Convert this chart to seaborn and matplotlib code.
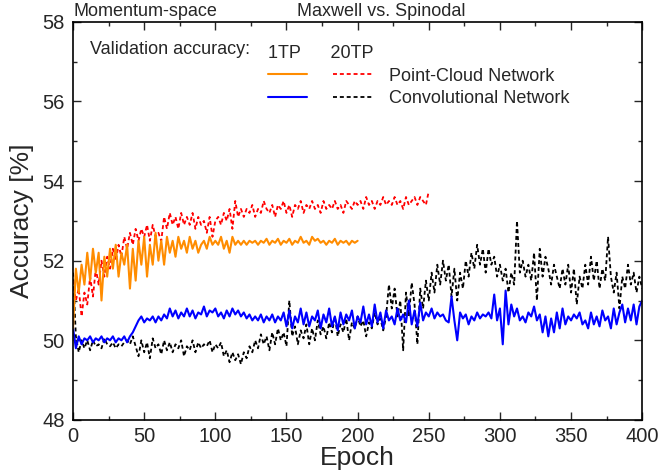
import numpy as np
import pandas as pd
import seaborn as sns
import matplotlib
matplotlib.use('Agg')
import matplotlib.pyplot as plt
from matplotlib.lines import Line2D
from matplotlib.legend_handler import HandlerTuple
from matplotlib.ticker import MultipleLocator

# validation accuracy [%], every 2 epochs
pc_1tp = [50.3, 51.8, 51.2, 51.9, 51.4, 52.2, 51.5, 52.3, 51.7, 52.2,
          51.0, 52.1, 51.6, 52.3, 51.8, 52.4, 51.6, 52.2, 51.9, 52.4,
          51.3, 52.3, 51.5, 52.5, 51.9, 52.6, 51.6, 52.4, 51.9, 52.7,
          52.0, 52.5, 51.9, 52.6, 52.2, 52.5, 52.1, 52.6, 52.3, 52.5,
          52.2, 52.6, 52.3, 52.5, 52.2, 52.4, 52.5, 52.3, 52.6, 52.4,
          52.5, 52.4, 52.6, 52.3, 52.5, 52.2, 52.6, 52.4, 52.5, 52.4,
          52.5, 52.4, 52.5, 52.45, 52.5, 52.4, 52.5, 52.45, 52.55, 52.4,
          52.5, 52.45, 52.55, 52.4, 52.5, 52.45, 52.55, 52.4, 52.5, 52.45,
          52.6, 52.45, 52.5, 52.4, 52.6, 52.5, 52.55, 52.45, 52.5, 52.4,
          52.5, 52.45, 52.55, 52.4, 52.5, 52.45, 52.5, 52.4, 52.5, 52.45,
          52.5]

pc_20tp = [51.5, 51.0, 51.3, 50.6, 51.2, 50.9, 51.6, 51.1, 51.8, 51.4,
           52.0, 51.6, 52.1, 51.8, 52.3, 52.0, 52.4, 52.1, 52.6, 52.3,
           52.7, 52.4, 52.8, 52.5, 52.8, 52.6, 52.9, 52.5, 52.9, 52.6,
           52.7, 52.5, 53.1, 52.8, 53.2, 52.9, 53.1, 52.8, 53.2, 52.9,
           53.1, 52.9, 53.2, 52.8, 53.1, 52.9, 53.0, 52.7, 53.1, 52.6,
           53.0, 53.1, 52.9, 53.2, 53.0, 53.3, 52.8, 53.5, 53.1, 53.3,
           53.1, 53.3, 53.2, 53.4, 53.1, 53.3, 53.2, 53.5, 53.3, 53.2,
           53.4, 53.1, 53.4, 53.3, 53.5, 53.2, 53.4, 53.1, 53.4, 53.3,
           53.5, 53.2, 53.4, 53.3, 53.5, 53.3, 53.4, 53.2, 53.5, 53.3,
           53.4, 53.3, 53.5, 53.3, 53.4, 53.2, 53.5, 53.4, 53.3, 53.5,
           53.4, 53.5, 53.3, 53.6, 53.4, 53.5, 53.3, 53.5, 53.4, 53.6,
           53.4, 53.5, 53.4, 53.6, 53.4, 53.5, 53.3, 53.6, 53.4, 53.5,
           53.6, 53.4, 53.6, 53.5, 53.4, 53.75]

cnn_1tp = [50.3, 49.8, 50.1, 49.9, 50.05, 50.0, 50.1, 49.95, 50.05, 50.0,
           50.1, 49.95, 50.05, 50.0, 50.1, 49.95, 50.05, 50.0, 50.1, 49.95,
           50.1, 50.2, 50.35, 50.5, 50.6, 50.45, 50.55, 50.5, 50.6, 50.45,
           50.6, 50.5, 50.65, 50.55, 50.8, 50.6, 50.75, 50.55, 50.7, 50.6,
           50.8, 50.6, 50.75, 50.55, 50.7, 50.65, 50.85, 50.6, 50.75, 50.7,
           50.8, 50.6, 50.7, 50.55, 50.75, 50.6, 50.8, 50.65, 50.75, 50.6,
           50.7, 50.55, 50.65, 50.5, 50.6, 50.5, 50.65, 50.45, 50.6, 50.5,
           50.65, 50.45, 50.6, 50.5, 50.7, 50.35, 50.75, 50.3, 50.6, 50.45,
           50.8, 50.4, 50.7, 50.35, 50.6, 50.5, 50.75, 50.3, 50.65, 50.45,
           50.8, 50.35, 50.6, 50.25, 50.7, 50.4, 50.65, 50.5, 50.75, 50.3,
           50.6, 50.45, 50.85, 50.4, 50.65, 50.35, 50.9, 50.45, 50.7, 50.3,
           50.75, 50.5, 50.6, 50.4, 50.8, 50.5, 50.65, 50.45, 51.0, 50.4,
           50.75, 50.35, 50.95, 50.5, 50.7, 50.6, 50.8, 50.55, 50.7, 50.6,
           50.65, 50.5, 50.45, 51.1, 50.5, 50.0, 50.7, 50.55, 50.65, 50.4,
           50.6, 50.5, 50.7, 50.55, 50.65, 50.6, 50.7, 50.55, 51.15, 50.5,
           50.8, 49.9, 51.25, 50.4, 50.9, 50.6, 50.8, 50.5, 50.6, 50.45,
           50.7, 50.6, 50.85, 50.5, 50.65, 50.2, 50.6, 50.1, 50.55, 50.2,
           50.7, 50.3, 50.8, 50.4, 50.6, 50.5, 50.65, 50.55, 50.7, 50.4,
           50.5, 50.3, 50.7, 50.4, 50.6, 50.35, 50.75, 50.5, 50.6, 50.3,
           50.8, 50.4, 50.7, 50.9, 50.45, 50.8, 50.5, 50.9, 50.4, 50.85,
           51.0]

cnn_20tp = [51.7, 50.1, 49.7, 50.0, 49.8, 50.0, 49.75, 50.0, 49.85, 49.9,
            49.8, 50.05, 49.9, 49.85, 49.95, 49.8, 49.9, 49.85, 49.95, 50.0,
            49.9, 50.1, 49.85, 49.6, 50.0, 49.7, 49.95, 49.55, 50.05, 49.8,
            49.9, 49.65, 50.0, 49.75, 49.95, 49.7, 49.9, 49.8, 50.0, 49.6,
            49.85, 49.75, 50.0, 49.7, 49.95, 49.8, 49.9, 49.85, 50.0, 49.7,
            49.9, 49.8, 49.95, 49.6, 49.75, 49.45, 49.7, 49.5, 49.65, 49.4,
            49.7, 49.55, 49.85, 49.7, 50.0, 49.8, 50.15, 49.9, 50.1, 49.75,
            50.2, 49.9, 50.3, 50.0, 50.2, 49.85, 51.0, 50.1, 50.35, 49.9,
            50.25, 50.05, 50.4, 49.9, 50.3, 50.0, 50.5, 50.15, 50.35, 50.05,
            50.45, 50.2, 50.6, 50.1, 50.4, 50.2, 50.55, 50.0, 50.45, 50.3,
            50.6, 50.35, 50.5, 50.1, 50.45, 50.3, 50.7, 50.4, 50.55, 50.25,
            50.6, 51.4, 50.8, 51.3, 50.6, 51.0, 49.75, 51.2, 50.6, 51.45,
            50.9, 49.9, 51.3, 50.8, 51.5, 51.0, 51.7, 51.2, 51.9, 51.4,
            52.0, 51.5, 51.9, 51.1, 51.8, 51.0, 51.7, 51.3, 52.0, 51.6,
            52.2, 51.8, 52.4, 51.9, 52.3, 51.7, 52.3, 51.9, 52.1, 51.6,
            51.9, 51.5, 51.8, 51.2, 51.7, 51.4, 53.0, 51.7, 52.0, 51.6,
            51.9, 51.5, 52.2, 51.0, 52.3, 51.6, 52.1, 51.8, 51.4, 51.9,
            51.6, 51.3, 51.8, 51.4, 51.9, 51.2, 51.8, 50.9, 51.6, 51.3,
            51.9, 51.4, 52.1, 51.5, 52.0, 51.3, 51.8, 51.5, 52.6, 51.6,
            51.2, 51.7, 50.8, 51.6, 51.3, 51.9, 51.4, 51.7, 51.2, 51.6,
            51.3]

ep_pc1 = np.arange(0, 201, 2)
ep_pc20 = np.arange(0, 251, 2)
ep_cnn = np.arange(0, 401, 2)

orange = '#FF8C00'
dash = (0, (2.2, 1.6))

sns.set_style('ticks')
plt.rcParams['font.family'] = ['Liberation Sans', 'DejaVu Sans']
plt.rcParams['xtick.direction'] = 'in'
plt.rcParams['ytick.direction'] = 'in'

fig = plt.figure(figsize=(6.58, 4.74), dpi=100)
ax = fig.add_axes([0.111, 0.114, 0.865, 0.840])

sns.lineplot(x=ep_cnn, y=cnn_20tp, ax=ax, color='black', linewidth=1.3, linestyle=dash)
sns.lineplot(x=ep_cnn, y=cnn_1tp, ax=ax, color='#0000FF', linewidth=1.5)
sns.lineplot(x=ep_pc20, y=pc_20tp, ax=ax, color='#FF0000', linewidth=1.3, linestyle=dash)
sns.lineplot(x=ep_pc1, y=pc_1tp, ax=ax, color=orange, linewidth=1.5)

ax.set_xlim(0, 400)
ax.set_ylim(48, 58)
ax.xaxis.set_major_locator(MultipleLocator(50))
ax.xaxis.set_minor_locator(MultipleLocator(25))
ax.yaxis.set_major_locator(MultipleLocator(2))
ax.yaxis.set_minor_locator(MultipleLocator(1))
ax.tick_params(which='both', top=True, right=True, direction='in', width=1.0, labelsize=14.5)
ax.tick_params(axis='x', pad=5)
ax.tick_params(axis='y', pad=6)
ax.tick_params(which='major', length=6)
ax.tick_params(which='minor', length=3)
for s in ax.spines.values():
    s.set_linewidth(1.2)
    s.set_color('black')
ax.set_xlabel('Epoch', fontsize=19, labelpad=0)
ax.set_ylabel('Accuracy [%]', fontsize=19, labelpad=6)

# legend: solid = 1TP, dashed = 20TP
h_pc = (Line2D([], [], color=orange, lw=1.5), Line2D([], [], color='#FF0000', lw=1.3, ls=dash))
h_cnn = (Line2D([], [], color='#0000FF', lw=1.5), Line2D([], [], color='black', lw=1.3, ls=dash))
leg = ax.legend([h_pc, h_cnn], ['Point-Cloud Network', 'Convolutional Network'],
                handler_map={tuple: HandlerTuple(ndivide=2, pad=1.4)},
                title='1TP      20TP', alignment='left', title_fontsize=13, fontsize=13,
                frameon=False, loc='upper left', bbox_to_anchor=(0.326, 0.965),
                borderpad=0, handlelength=5.8, handletextpad=0.9, labelspacing=0.32)
ax.text(0.03, 0.93, 'Validation accuracy:', transform=ax.transAxes, fontsize=13, va='center')

fig.text(0.111, 0.975, 'Momentum-space', fontsize=13, va='center')
fig.text(0.58, 0.975, 'Maxwell vs. Spinodal', fontsize=13, va='center', ha='center')

fig.savefig('out.png', dpi=100)
